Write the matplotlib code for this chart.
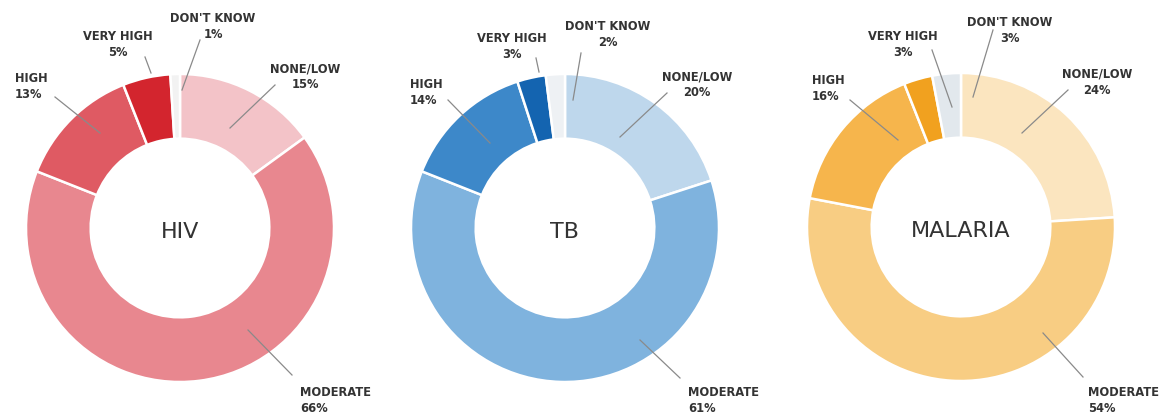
import numpy as np
import matplotlib.pyplot as plt

# data
categories = ["NONE/LOW", "MODERATE", "HIGH", "VERY HIGH", "DON'T KNOW"]
diseases = ["HIV", "TB", "MALARIA"]
hiv_vals = [15, 66, 13, 5, 1]
tb_vals = [20, 61, 14, 3, 2]
malaria_vals = [24, 54, 16, 3, 3]

hiv_colors = ["#f3c3c8", "#e8878f", "#df5a63", "#d3252e", "#f2f2f2"]
tb_colors = ["#bed7ec", "#7fb3de", "#3d88c9", "#1464b0", "#eef1f4"]
malaria_colors = ["#fbe5bf", "#f8cd83", "#f6b54c", "#f1a11f", "#e2e8ed"]

W, H = 1170, 420
fig = plt.figure(figsize=(W / 100, H / 100), dpi=100)
ax = fig.add_axes([0, 0, 1, 1])

R = 154
ring = 0.42 * R

# per chart: center, then label layout (text x, y, ha, line start, line end) in pixel coords
layouts = [
    dict(center=(180, 228), vals=hiv_vals, colors=hiv_colors, name=diseases[0],
         labels=[((305, 77), "center", (275, 85), (230, 128)),
                 ((300, 401), "left", (292, 375), (248, 330)),
                 ((15, 86), "left", (55, 97), (100, 133)),
                 ((118, 45), "center", (145, 57), (151, 73)),
                 ((213, 26), "center", (200, 40), (182, 90))]),
    dict(center=(565, 228), vals=tb_vals, colors=tb_colors, name=diseases[1],
         labels=[((697, 85), "center", (667, 93), (620, 137)),
                 ((688, 401), "left", (680, 378), (640, 340)),
                 ((410, 92), "left", (448, 100), (490, 143)),
                 ((512, 47), "center", (536, 58), (539, 72)),
                 ((608, 35), "center", (581, 53), (573, 100))]),
    dict(center=(961, 227), vals=malaria_vals, colors=malaria_colors, name=diseases[2],
         labels=[((1097, 82), "center", (1068, 90), (1022, 133)),
                 ((1088, 401), "left", (1083, 377), (1043, 333)),
                 ((812, 88), "left", (850, 100), (898, 140)),
                 ((903, 44), "center", (932, 50), (952, 107)),
                 ((1010, 30), "center", (993, 30), (973, 97))]),
]

for lay in layouts:
    cx, cy = lay["center"]
    # y axis is inverted: start at screen top (-90) and counterclock in data = clockwise on screen
    ax.pie(lay["vals"], colors=lay["colors"], center=(cx, cy), radius=R,
           startangle=-90, counterclock=True,
           wedgeprops=dict(width=ring, edgecolor="white", linewidth=1.8),
           frame=True)
    ax.text(cx, cy + 4, lay["name"], ha="center", va="center", fontsize=16,
            color="#333333")
    for (txt, ha, p0, p1), cat, v in zip(lay["labels"], categories, lay["vals"]):
        ax.plot([p0[0], p1[0]], [p0[1], p1[1]], color="#8a8a8a", lw=0.9)
        ax.text(txt[0], txt[1], f"{cat}\n{v}%", ha=ha, va="center", fontsize=8.3,
                fontweight="bold", color="#333333", linespacing=1.3)

ax.set_xlim(0, W)
ax.set_ylim(H, 0)
ax.set_aspect("equal")
ax.axis("off")
fig.savefig("out.png", dpi=100, facecolor="white")
